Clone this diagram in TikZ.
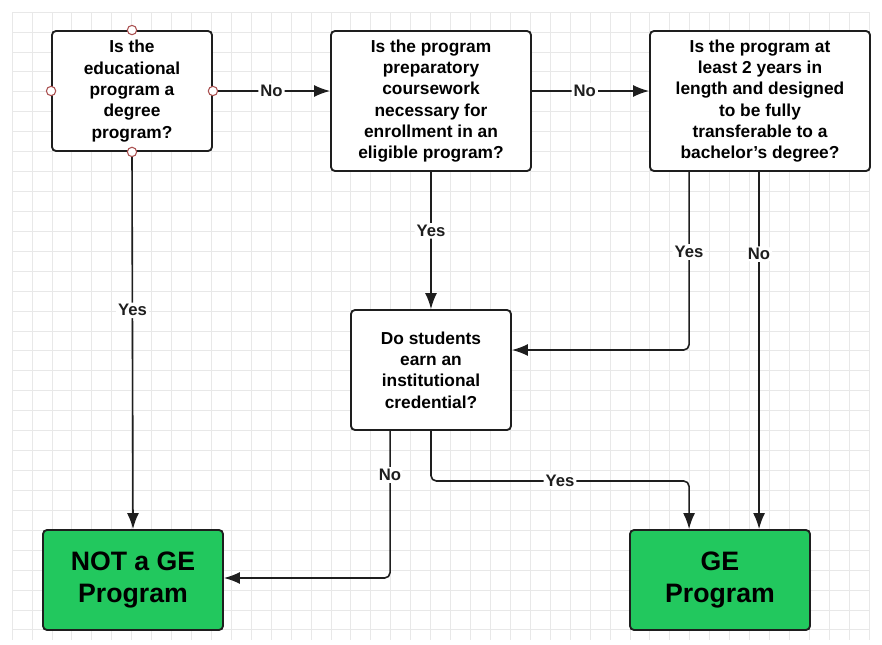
\documentclass[tikz,border=0pt]{standalone}
\usepackage{fontspec}
\setmainfont{Liberation Sans}
\usetikzlibrary{arrows.meta,calc}

\definecolor{gegreen}{RGB}{34,200,94}
\definecolor{lnclr}{RGB}{30,30,30}
\definecolor{gridclr}{RGB}{232,232,232}
\definecolor{pinclr}{RGB}{170,80,80}

\tikzset{
  qbox/.style={draw=lnclr, line width=1.4pt, rounded corners=3, fill=white, align=center,
    font=\fontsize{13}{16}\selectfont\bfseries, inner sep=2pt},
  endbox/.style={qbox, fill=gegreen, font=\fontsize{20}{24}\selectfont\bfseries},
  link/.style={draw=lnclr, line width=1.2pt, rounded corners=4, -{Latex[length=12pt,width=9pt]}},
  lbl/.style={fill=white, inner sep=1.5pt, text=lnclr, font=\fontsize{12.5}{14}\selectfont\bfseries},
  pin/.style={circle, draw=pinclr, fill=white, line width=0.8pt, inner sep=0pt, minimum size=7pt}
}

\begin{document}
\begin{tikzpicture}[x=0.75pt,y=0.75pt,yscale=-1]
\useasboundingbox (0,0) rectangle (882,645);

%Grid
\foreach \i in {0,...,43} \draw[gridclr, line width=0.5pt] (12+\i*19.93,12) -- (12+\i*19.93,640);
\foreach \j in {0,...,31} \draw[gridclr, line width=0.5pt] (12,12+\j*19.93) -- (869,12+\j*19.93);

%Question boxes
\node[qbox, minimum width=120pt, minimum height=90pt] (degree) at (132,91)
  {Is the\\educational\\program a\\degree\\program?};
\node[qbox, minimum width=150pt, minimum height=105pt] (prep) at (431,101)
  {Is the program\\preparatory\\coursework\\necessary for\\enrollment in an\\eligible program?};
\node[qbox, minimum width=165pt, minimum height=105pt] (transfer) at (760,101)
  {Is the program at\\least 2 years in\\length and designed\\to be fully\\transferable to a\\bachelor's degree?};
\node[qbox, minimum width=120pt, minimum height=90pt] (credential) at (431,370)
  {Do students\\earn an\\institutional\\credential?};

%Result boxes
\node[endbox, minimum width=135pt, minimum height=75pt] (notge) at (133,580) {NOT a GE\\Program};
\node[endbox, minimum width=135pt, minimum height=75pt] (ge) at (720,580) {GE\\Program};

%Helper points
\coordinate (tyes) at ($(transfer.south west)+(40,0)$);
\coordinate (tno) at ($(transfer.south west)+(110,0)$);
\coordinate (cno) at ($(credential.south west)+(40,0)$);
\coordinate (cin) at ($(credential.east)+(0,-20)$);
\coordinate (nin) at ($(notge.east)+(0,-2)$);

%Connectors
\draw[link] (degree.east) -- node[lbl]{No} (degree.east -| prep.west);
\draw[link] (degree.east -| prep.east) -- node[lbl, pos=.45]{No} (degree.east -| transfer.west);
\draw[link] (degree.south) -- node[lbl, pos=.42]{Yes} (notge.north);
\draw[link] (prep.south) -- node[lbl, pos=.43]{Yes} (credential.north);
\draw[link] (tyes) -- node[lbl, pos=.45]{Yes} (tyes |- cin) -- (cin);
\draw[link] (tno) -- node[lbl, pos=.23]{No} (tno |- ge.north);
\draw[link] (cno) -- node[lbl, pos=.3]{No} (cno |- nin) -- (nin);
\draw[link] (credential.south) -- (credential.south |- 0,481) -- node[lbl]{Yes} (tyes |- 0,481) -- (tyes |- ge.north);

%Pins on first box
\foreach \a in {north,south,east,west} \node[pin] (pin-\a) at (degree.\a) {};

\end{tikzpicture}
\end{document}
